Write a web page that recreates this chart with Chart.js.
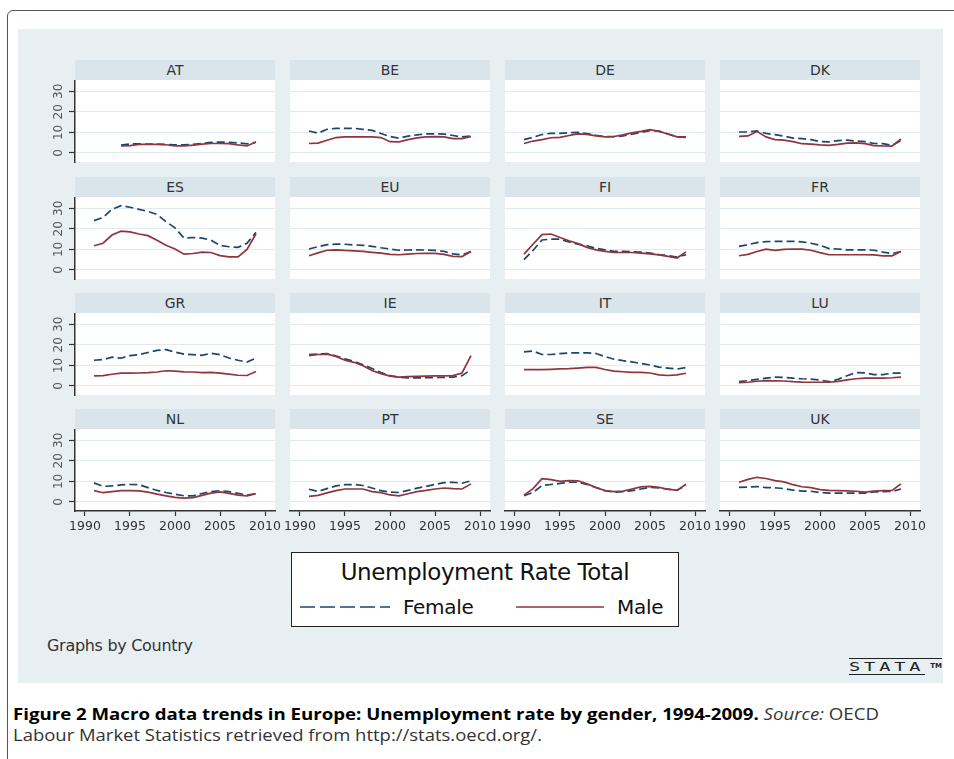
<!DOCTYPE html>
<html>
<head>
<meta charset="utf-8">
<script src="https://cdn.jsdelivr.net/npm/chart.js"></script>
<style>
html,body{margin:0;padding:0;background:#fff;}
body{width:954px;height:759px;position:relative;overflow:hidden;font-family:'DejaVu Sans',sans-serif;}
#frame{position:absolute;left:7px;top:10px;width:990px;height:800px;border:1.5px solid #555;border-top-left-radius:6px;box-sizing:border-box;}
#graph{position:absolute;left:18px;top:29px;width:925px;height:654px;background:#e8eff3;}
.hdr{position:absolute;height:20px;background:#d9e4eb;color:#333;font-size:14px;line-height:21px;text-align:center;}
canvas.panel{position:absolute;}
#legend{position:absolute;left:291px;top:552px;width:388px;height:75px;background:#fff;border:1.5px solid #222;box-sizing:border-box;}
#legend .ttl{position:absolute;left:0;width:100%;top:5px;text-align:center;font-size:23px;letter-spacing:-0.4px;color:#111;line-height:28px;}
#legend .lbl{position:absolute;top:41px;font-size:20px;letter-spacing:-0.3px;color:#111;line-height:26px;}
#legend svg{position:absolute;left:0;top:0;}
#byline{position:absolute;left:47px;top:636px;font-size:16px;color:#333;letter-spacing:-0.3px;}
#stata{position:absolute;left:849px;top:658px;width:93px;height:18px;border-top:1.5px solid #222;}
#stata .word{position:absolute;left:0;top:3px;font-family:'DejaVu Sans Mono',monospace;font-size:12px;line-height:11px;letter-spacing:2.5px;color:#222;border-bottom:1.5px solid #222;padding-bottom:1px;transform:scaleX(1.55);transform-origin:0 0;}
#stata .tm{position:absolute;right:0;top:3px;font-family:'DejaVu Sans',sans-serif;font-size:7px;font-weight:bold;color:#222;}
.cap{position:absolute;left:13px;white-space:nowrap;font-family:'Open Sans',sans-serif;font-size:16.5px;line-height:18px;transform-origin:0 0;color:#333;}
.cap b{color:#000;}
</style>
</head>
<body>
<div id="frame"></div>
<div id="graph"></div>
<div id="panels"></div>

<div id="legend">
  <div class="ttl">Unemployment Rate Total</div>
  <svg width="386" height="72">
    <line x1="8" y1="54" x2="98" y2="54" stroke="#1a476f" stroke-width="1.3" stroke-dasharray="15 5"/>
    <line x1="224" y1="54" x2="312" y2="54" stroke="#90353b" stroke-width="1.3"/>
  </svg>
  <div class="lbl" style="left:111px">Female</div>
  <div class="lbl" style="left:325px">Male</div>
</div>
<div id="byline">Graphs by Country</div>
<div id="stata"><span class="word">STATA</span><span class="tm">TM</span></div>

<div class="cap" id="cap1" style="top:705px"><b>Figure 2 Macro data trends in Europe: Unemployment rate by gender, 1994-2009.</b> <i>Source:</i> OECD</div>
<div class="cap" id="cap2" style="top:726px">Labour Market Statistics retrieved from http://stats.oecd.org/.</div>

<script>
// unemployment rate (%) by country and gender, annual
const years = [1991,1992,1993,1994,1995,1996,1997,1998,1999,2000,2001,2002,2003,2004,2005,2006,2007,2008,2009];
const countries = ['AT','BE','DE','DK','ES','EU','FI','FR','GR','IE','IT','LU','NL','PT','SE','UK'];
const xTickValues = [1990,1995,2000,2005,2010];
const yTickValues = [0,10,20,30];

const femaleAT = [null,null,null,3.8,4.4,4.4,4.3,4.3,4.2,3.9,3.9,4.2,4.6,5.2,5.3,5.2,4.9,4.4,5.2];
const maleAT   = [null,null,null,3.4,3.6,4.2,4.2,4.2,4.0,3.4,3.4,3.8,4.3,4.6,4.6,4.5,3.9,3.4,5.3];
const femaleBE = [10.7,9.6,11.5,12.0,12.0,12.0,11.5,11.0,9.5,8.0,7.2,8.2,8.8,9.3,9.3,9.2,8.5,7.8,8.2];
const maleBE   = [4.6,4.8,6.2,7.5,7.8,7.8,7.8,7.8,7.5,5.5,5.4,6.5,7.3,7.8,7.9,7.8,7.0,7.0,8.0];
const femaleDE = [6.5,7.6,9.0,9.6,9.5,9.9,10.0,9.4,8.6,8.0,7.9,8.3,9.1,10.0,10.8,10.6,9.2,7.8,7.6];
const maleDE   = [4.6,5.8,6.5,7.4,7.6,8.5,9.3,9.0,8.3,7.8,8.0,8.8,9.8,10.5,11.3,10.5,9.2,7.8,7.8];
const femaleDK = [10.2,10.2,10.7,9.5,8.9,8.2,7.2,7.0,6.5,5.5,5.4,6.0,6.2,5.8,5.5,4.6,4.5,3.7,6.0];
const maleDK   = [8.1,8.3,10.5,7.8,6.5,6.2,5.5,4.5,4.3,3.9,3.7,4.2,4.8,4.9,4.5,3.6,3.4,3.3,6.8];
const femaleES = [24.0,25.5,29.5,31.3,30.5,29.5,28.5,27.0,23.5,20.5,15.5,15.8,15.5,14.5,12.0,11.3,11.0,13.0,18.3];
const maleES   = [11.8,13.0,17.0,18.9,18.5,17.5,16.7,14.5,12.0,10.2,7.7,8.0,8.7,8.5,7.0,6.4,6.4,10.0,17.6];
const femaleEU = [10.2,11.3,12.3,12.6,12.5,12.2,12.0,11.5,10.8,10.2,9.6,9.7,9.8,9.7,9.5,9.0,7.8,7.4,8.9];
const maleEU   = [6.9,8.3,9.6,9.8,9.5,9.3,9.0,8.6,8.2,7.6,7.4,7.7,8.0,8.1,8.1,7.6,6.6,6.5,9.0];
const femaleFI = [5.0,9.5,14.6,15.0,15.0,13.6,12.6,11.8,10.5,9.8,9.0,9.0,8.9,8.7,8.2,7.5,7.0,6.3,7.4];
const maleFI   = [7.7,12.5,17.2,17.5,15.8,14.2,12.8,11.0,9.8,9.0,8.6,8.5,8.5,8.2,7.8,7.3,6.6,5.8,8.8];
const femaleFR = [11.5,12.3,13.3,13.8,13.9,13.9,13.9,13.7,13.0,12.0,10.4,10.2,9.8,9.8,9.8,9.6,8.7,8.0,9.0];
const maleFR   = [6.9,7.6,9.0,10.1,9.5,10.0,10.2,10.1,9.6,8.4,7.4,7.4,7.4,7.4,7.4,7.3,6.9,6.9,9.0];
const femaleGR = [12.5,12.8,14.0,13.5,14.8,15.2,16.3,17.3,17.7,16.5,15.5,15.2,14.9,15.9,15.2,13.6,12.5,11.6,13.5];
const maleGR   = [4.9,5.0,5.7,6.2,6.2,6.3,6.5,6.8,7.4,7.2,6.9,6.8,6.5,6.6,6.2,5.8,5.2,5.1,7.0];
const femaleIE = [15.2,15.5,15.7,14.6,13.2,12.0,10.3,8.5,6.5,5.0,4.2,3.9,3.9,4.0,4.1,4.2,4.3,5.0,7.9];
const maleIE   = [14.8,15.3,15.5,14.4,12.5,11.5,9.8,7.5,6.0,4.8,4.3,4.5,4.7,4.8,4.9,4.9,5.0,6.3,14.8];
const femaleIT = [16.6,17.0,15.3,15.3,15.7,16.1,16.1,16.1,15.8,14.3,13.0,12.3,11.7,10.9,10.2,9.2,8.7,8.2,9.0];
const maleIT   = [7.9,7.9,7.9,8.1,8.3,8.4,8.7,9.0,9.0,8.0,7.2,6.9,6.6,6.6,6.3,5.4,5.1,5.4,6.2];
const femaleLU = [2.1,2.6,3.2,3.8,4.3,4.2,3.8,3.5,3.3,2.9,2.1,3.2,5.0,6.5,6.4,5.5,5.5,6.2,6.2];
const maleLU   = [1.6,1.8,2.3,2.6,2.5,2.4,2.1,1.9,1.8,1.8,1.8,2.2,3.0,3.5,3.8,3.8,3.8,4.0,4.3];
const femaleNL = [9.3,7.6,7.8,8.3,8.5,8.4,7.0,5.6,4.6,3.8,3.0,3.0,4.1,5.0,5.5,5.0,4.2,3.4,4.0];
const maleNL   = [5.5,4.5,5.0,5.5,5.5,5.4,4.8,3.8,3.0,2.2,1.9,2.1,3.2,4.3,4.9,4.2,3.3,3.0,4.0];
const femalePT = [6.2,5.1,6.5,7.8,8.4,8.5,8.0,6.8,5.5,4.8,4.6,5.6,6.7,7.6,8.5,9.4,9.6,9.1,10.3];
const malePT   = [2.7,3.2,4.4,5.5,6.3,6.3,6.3,5.0,4.5,3.4,3.0,4.0,5.0,5.6,6.3,6.8,6.5,6.3,8.8];
const femaleSE = [3.0,4.6,8.0,8.5,9.0,9.6,9.6,8.5,7.0,5.5,4.8,5.0,5.5,6.3,7.1,6.8,6.2,5.7,8.0];
const maleSE   = [3.3,6.5,11.3,10.9,10.0,10.4,10.3,8.8,7.0,5.5,5.0,5.3,6.3,7.3,7.6,7.1,6.2,5.6,8.6];
const femaleUK = [7.1,7.2,7.5,7.0,6.9,6.5,5.8,5.3,5.2,4.6,4.3,4.3,4.3,4.3,4.3,4.9,5.0,5.1,6.3];
const maleUK   = [9.6,11.0,12.0,11.4,10.4,9.8,8.4,7.4,7.0,6.0,5.6,5.5,5.4,5.2,4.8,5.3,5.5,5.6,8.8];

const series = {
  AT:[femaleAT,maleAT], BE:[femaleBE,maleBE], DE:[femaleDE,maleDE], DK:[femaleDK,maleDK],
  ES:[femaleES,maleES], EU:[femaleEU,maleEU], FI:[femaleFI,maleFI], FR:[femaleFR,maleFR],
  GR:[femaleGR,maleGR], IE:[femaleIE,maleIE], IT:[femaleIT,maleIT], LU:[femaleLU,maleLU],
  NL:[femaleNL,maleNL], PT:[femalePT,malePT], SE:[femaleSE,maleSE], UK:[femaleUK,maleUK]
};

// panel grid geometry (px)
const COL_LEFT = [75,290,505,720];
const ROW_TOP  = [60,177,293,409];
const HDR_H = 20, PLOT_W = 200, PLOT_H = 82;
const AX_W = 40, AX_H = 30, PAD_R = 20;

const X_MIN = 1990 - 10/9, X_MAX = X_MIN + 200/9;
const Y_MIN = -4.4, Y_MAX = 35.5;

const NAVY = '#1a476f', MAROON = '#90353b', GRID = '#e1eaef', INK = '#333';

Chart.defaults.font.family = "'DejaVu Sans', sans-serif";

// white plot region behind the lines
const plotBg = {
  id:'plotBg',
  beforeDraw(chart){
    const {ctx, chartArea:a} = chart;
    ctx.save(); ctx.fillStyle = '#fff';
    ctx.fillRect(a.left, a.top, a.right-a.left, a.bottom-a.top);
    ctx.restore();
  }
};

const toPts = arr => arr.map((v,i)=>({x:years[i], y:v}));

function makePanel(idx){
  const r = Math.floor(idx/4), c = idx%4;
  const code = countries[idx];
  const [fem, mal] = series[code];
  const firstCol = c===0, lastRow = r===3;
  const holder = document.getElementById('panels');

  const hdr = document.createElement('div');
  hdr.className = 'hdr';
  hdr.style.left = COL_LEFT[c]+'px';
  hdr.style.top = ROW_TOP[r]+'px';
  hdr.style.width = PLOT_W+'px';
  hdr.textContent = code;
  holder.appendChild(hdr);

  const cv = document.createElement('canvas');
  cv.className = 'panel';
  cv.width = AX_W + PLOT_W + PAD_R;
  cv.height = PLOT_H + AX_H;
  cv.style.left = (COL_LEFT[c]-AX_W)+'px';
  cv.style.top = (ROW_TOP[r]+HDR_H)+'px';
  holder.appendChild(cv);

  new Chart(cv.getContext('2d'), {
    type:'line',
    data:{
      datasets:[
        { label:'Female', data:toPts(fem), borderColor:NAVY, borderWidth:1.7, borderDash:[8,4], pointRadius:0, tension:0, order:2 },
        { label:'Male',   data:toPts(mal), borderColor:MAROON, borderWidth:1.7, pointRadius:0, tension:0, order:1 }
      ]
    },
    options:{
      responsive:false, animation:false, devicePixelRatio:1,
      layout:{ autoPadding:false, padding:{ left:0, right:PAD_R, top:0, bottom:0 } },
      plugins:{ legend:{display:false}, tooltip:{enabled:false} },
      scales:{
        x:{
          type:'linear', min:X_MIN, max:X_MAX,
          afterBuildTicks:s=>{ s.ticks = xTickValues.map(v=>({value:v})); },
          afterFit:s=>{ s.height = AX_H; s.paddingLeft = s.paddingRight = s.paddingTop = s.paddingBottom = 0; },
          border:{ display:lastRow, color:INK, width:1.5 },
          grid:{ display:lastRow, drawOnChartArea:false, drawTicks:true, tickLength:5, tickColor:INK, tickWidth:1.2 },
          ticks:{ display:lastRow, color:INK, font:{size:12.5}, padding:3, minRotation:0, maxRotation:0, autoSkip:false, callback:v=>String(v) }
        },
        y:{
          min:Y_MIN, max:Y_MAX,
          afterBuildTicks:s=>{ s.ticks = yTickValues.map(v=>({value:v})); },
          afterFit:s=>{ s.width = AX_W; s.paddingLeft = s.paddingRight = s.paddingTop = s.paddingBottom = 0; },
          border:{ display:firstCol, color:INK, width:1.5 },
          grid:{ color:GRID, lineWidth:1, drawTicks:firstCol, tickLength:firstCol?6:0, tickColor:INK, tickWidth:1.2 },
          ticks:{ display:firstCol, color:'#555', font:{size:12}, padding:2, minRotation:90, maxRotation:90, crossAlign:'center', callback:v=>String(v) }
        }
      }
    },
    plugins:[plotBg]
  });
}

countries.forEach((_,i)=>makePanel(i));

// squeeze the caption lines to the column width
function fitLine(id, target){
  const el = document.getElementById(id);
  const w = el.getBoundingClientRect().width;
  if (w > 0) el.style.transform = 'scaleX(' + (target/w) + ')';
}
fitLine('cap1', 866);
fitLine('cap2', 529);
</script>
</body>
</html>
